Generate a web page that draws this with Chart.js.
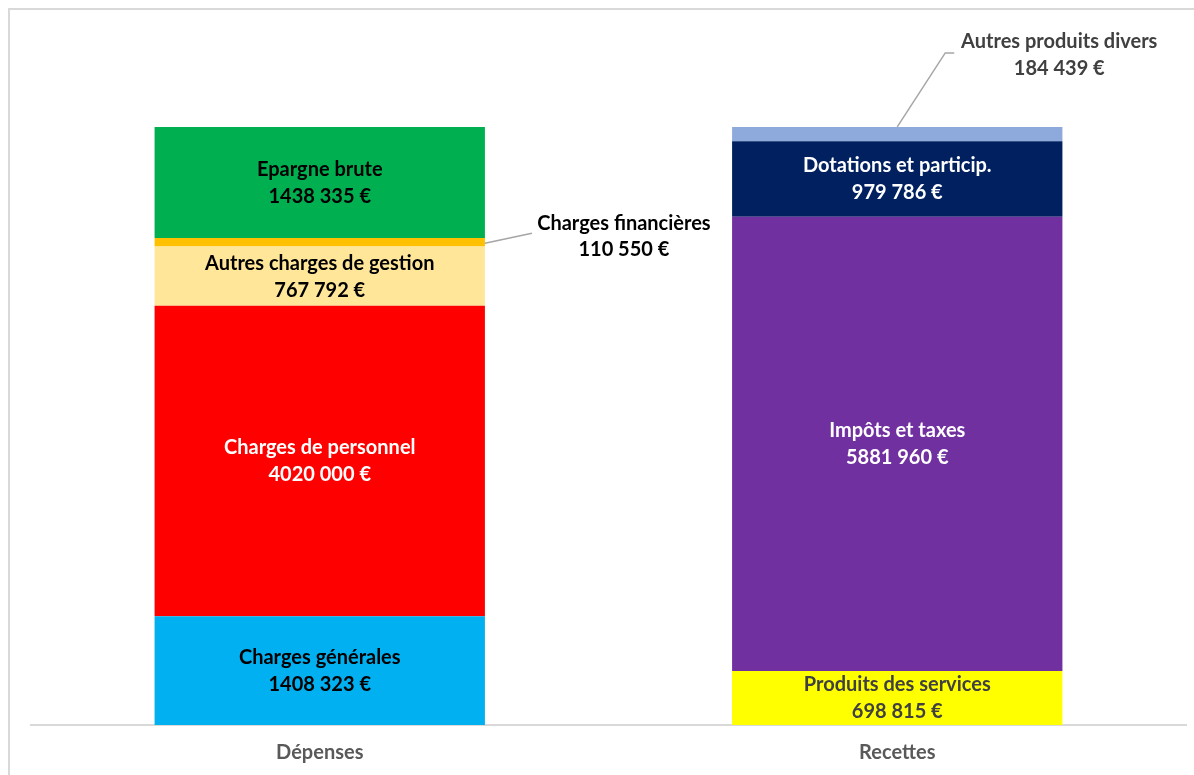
<!DOCTYPE html>
<html>
<head>
<meta charset="utf-8">
<script src="https://cdn.jsdelivr.net/npm/chart.js@4/dist/chart.umd.min.js"></script>
<style>
    html, body { margin: 0; padding: 0; background: #fff; overflow: hidden; }
    #cadre { position: absolute; left: 8px; top: 8px; width: 1200px; height: 800px; border: 2px solid #d9d9d9; }
    #wrap { position: absolute; left: 0; top: 0; width: 1194px; height: 800px; }
</style>
</head>
<body>
<div id="cadre"></div>
<div id="wrap"><canvas id="graphique"></canvas></div>
<script>
// Données
const categories = ['Dépenses', 'Recettes'];

const depensesLabels = ['Charges générales', 'Charges de personnel', 'Autres charges de gestion', 'Charges financières', 'Epargne brute'];
const depensesValeurs = [1408323, 4020000, 767792, 110550, 1438335];
const depensesCouleurs = ['#00B0F0', '#FF0000', '#FFE699', '#FFC000', '#00B050'];
const depensesTexte = ['#000000', '#FFFFFF', '#000000', '#000000', '#000000'];

const recettesLabels = ['Produits des services', 'Impôts et taxes', 'Dotations et particip.', 'Autres produits divers'];
const recettesValeurs = [698815, 5881960, 979786, 184439];
const recettesCouleurs = ['#FFFF00', '#7030A0', '#002060', '#8EA9DB'];
const recettesTexte = ['#404040', '#FFFFFF', '#FFFFFF', '#404040'];

// Format "1438 335 €"
function formatEuro(v) {
    const milliers = Math.floor(v / 1000);
    const reste = String(v % 1000).padStart(3, '0');
    return milliers + ' ' + reste + ' €';
}

// Build datasets
const datasets = [];
depensesLabels.forEach((lbl, i) => {
    datasets.push({
        label: lbl,
        data: [depensesValeurs[i], null],
        backgroundColor: depensesCouleurs[i],
        textColor: depensesTexte[i],
        exterieur: lbl === 'Charges financières' ? 'droite' : null,
    });
});
recettesLabels.forEach((lbl, i) => {
    datasets.push({
        label: lbl,
        data: [null, recettesValeurs[i]],
        backgroundColor: recettesCouleurs[i],
        textColor: recettesTexte[i],
        exterieur: lbl === 'Autres produits divers' ? 'haut' : null,
    });
});

// Plugin pour les étiquettes
const etiquettes = {
    id: 'etiquettes',
    afterDatasetsDraw(chart) {
        const ctx = chart.ctx;
        ctx.save();
        ctx.font = 'bold 20px Lato';
        ctx.textAlign = 'center';
        ctx.textBaseline = 'middle';
        chart.data.datasets.forEach((ds, di) => {
            const meta = chart.getDatasetMeta(di);
            meta.data.forEach((el, idx) => {
                const v = ds.data[idx];
                if (v == null) return;
                const top = Math.min(el.y, el.base);
                const bottom = Math.max(el.y, el.base);
                const milieu = (top + bottom) / 2;
                const droite = el.x + el.width / 2;
                ctx.fillStyle = ds.textColor;
                if (ds.exterieur === 'droite') {
                    // leader line
                    ctx.strokeStyle = '#A6A6A6';
                    ctx.lineWidth = 1.5;
                    ctx.beginPath();
                    ctx.moveTo(droite, milieu + 1);
                    ctx.lineTo(droite + 47, milieu - 9);
                    ctx.stroke();
                    ctx.fillText(ds.label, droite + 139, milieu - 19);
                    ctx.fillText(formatEuro(v), droite + 139, milieu + 7);
                } else if (ds.exterieur === 'haut') {
                    ctx.strokeStyle = '#A6A6A6';
                    ctx.lineWidth = 1.5;
                    ctx.beginPath();
                    ctx.moveTo(el.x, top);
                    ctx.lineTo(el.x + 48, top - 74);
                    ctx.lineTo(el.x + 57, top - 74);
                    ctx.stroke();
                    ctx.fillText(ds.label, el.x + 162, top - 85);
                    ctx.fillText(formatEuro(v), el.x + 162, top - 58);
                } else {
                    ctx.fillText(ds.label, el.x, milieu - 13);
                    ctx.fillText(formatEuro(v), el.x, milieu + 14);
                }
            });
        });
        ctx.restore();
    }
};

const config = {
    type: 'bar',
    data: {
        labels: categories,
        datasets: datasets,
    },
    options: {
        responsive: true,
        maintainAspectRatio: false,
        animation: false,
        layout: {
            padding: { top: 30, left: 31, right: 8, bottom: 27 }
        },
        datasets: {
            bar: {
                categoryPercentage: 1,
                barPercentage: 0.572,
                borderWidth: 0,
            }
        },
        scales: {
            x: {
                stacked: true,
                grid: { display: false },
                border: { display: true, color: '#D9D9D9', width: 2 },
                ticks: {
                    padding: 8,
                    color: '#595959',
                    font: { family: 'Lato', size: 20, weight: 'bold' },
                }
            },
            y: {
                stacked: true,
                display: false,
                min: 0,
                max: 9000000,
            }
        },
        plugins: {
            legend: { display: false },
            tooltip: { enabled: false },
        }
    },
    plugins: [etiquettes],
};

new Chart(document.getElementById('graphique'), config);
</script>
</body>
</html>
